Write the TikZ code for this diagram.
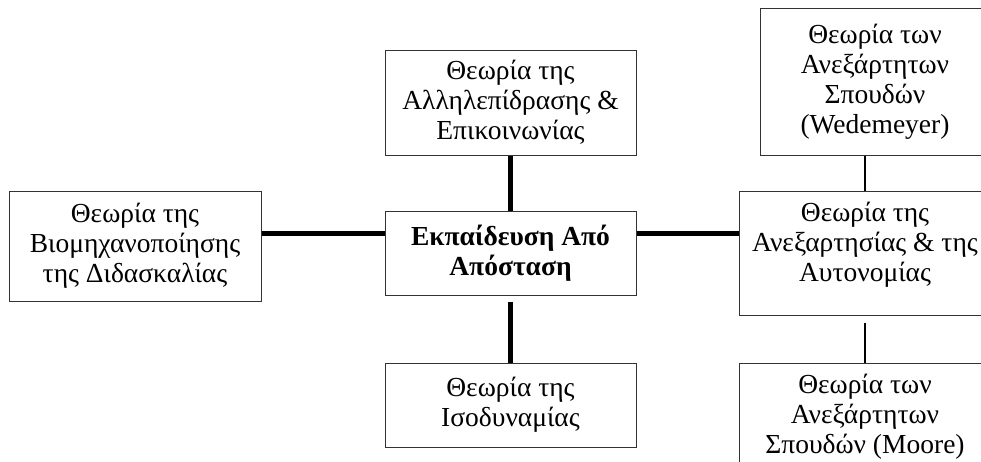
\documentclass[tikz,border=0pt]{standalone}
\usepackage{fontspec}
\setmainfont{Liberation Serif}
\usetikzlibrary{positioning}

\begin{document}
\begin{tikzpicture}
[x=1pt, y=-1pt,
baseshape/.style={rectangle, draw=black!80, line width=1pt, align=center, inner sep=0pt, font=\fontsize{27.5}{30}\selectfont},
theory/.style={baseshape, minimum width=251pt, minimum height=84pt},
thickline/.style={line width=5pt},
thinline/.style={line width=2pt},]
    \useasboundingbox (0,0) rectangle (981,461);
    \node (ead) [theory, font=\fontsize{27.5}{30}\selectfont\bfseries] at (510.5,253) {Εκπαίδευση Από\\Απόσταση};
    \node (dsk) [theory, minimum width=252pt, minimum height=110pt] at (135,246) {Θεωρία της\\Βιομηχανοποίησης\\της Διδασκαλίας};
    \node (alel) [theory, minimum height=105pt] at (510.5,102.5) {Θεωρία της\\Αλληλεπίδρασης \&\\Επικοινωνίας};
    \node (isod) [theory] at (510.5,405) {Θεωρία της\\Ισοδυναμίας};
    \node (wed) [theory, minimum width=230pt, minimum height=147pt] at (875,81.5) {Θεωρία των\\Ανεξάρτητων\\Σπουδών\\(Wedemeyer)};
    \node (anex) [theory, minimum width=252pt, minimum height=124pt, text depth=22pt] at (865,253) {Θεωρία της\\Ανεξαρτησίας \& της\\Αυτονομίας};
    \node (moore) [theory, minimum width=252pt, minimum height=108pt] at (865,417) {Θεωρία των\\Ανεξάρτητων\\Σπουδών (Moore)};
    \coordinate (hl) at (0,233);
    \draw[thickline] (dsk.east |- hl) -- (ead.west |- hl);
    \draw[thickline] (ead.east |- hl) -- (anex.west |- hl);
    \draw[thickline] (alel.south) -- (ead.north);
    \draw[thickline, shorten <=6pt] (ead.south) -- (isod.north);
    \draw[thinline] (wed.south -| anex.north) -- (anex.north);
    \draw[thinline, shorten <=7pt] (anex.south) -- (moore.north);
\end{tikzpicture}
\end{document}
